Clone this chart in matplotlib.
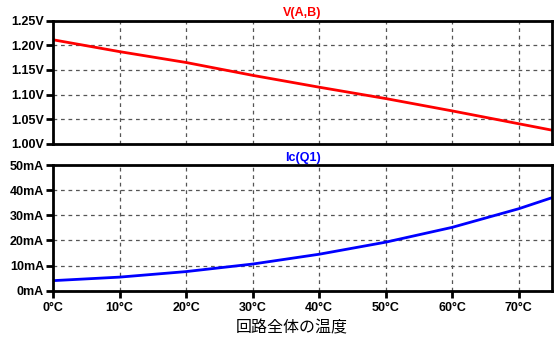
import matplotlib
matplotlib.use("Agg")
import matplotlib.pyplot as plt

# Temperature sweep (deg C) and the two traces
temps = [0, 10, 20, 30, 40, 50, 60, 70, 75]
v_ab = [1.211, 1.187, 1.165, 1.139, 1.115, 1.092, 1.067, 1.041, 1.028]
ic_q1 = [4.0, 5.4, 7.6, 10.6, 14.5, 19.3, 25.2, 32.6, 37.0]

x_ticks = [0, 10, 20, 30, 40, 50, 60, 70]
x_labels = ["0°C", "10°C", "20°C", "30°C", "40°C", "50°C", "60°C", "70°C"]
v_ticks = [1.00, 1.05, 1.10, 1.15, 1.20, 1.25]
v_labels = ["1.00V", "1.05V", "1.10V", "1.15V", "1.20V", "1.25V"]
i_ticks = [0, 10, 20, 30, 40, 50]
i_labels = ["0mA", "10mA", "20mA", "30mA", "40mA", "50mA"]

W, H = 560, 344
fig = plt.figure(figsize=(W / 100, H / 100), dpi=100)

tick_font = dict(family=["Liberation Sans", "DejaVu Sans"], weight="bold", size=9)


def panel(top, bottom):
    ax = fig.add_axes([53 / W, (H - bottom) / H, 499 / W, (bottom - top) / H])
    for s in ax.spines.values():
        s.set_linewidth(2)
        s.set_color("black")
    ax.set_xlim(0, 75)
    ax.set_xticks(x_ticks)
    ax.grid(True, color="#555555", linestyle=(0, (3, 3)), linewidth=0.9)
    ax.tick_params(direction="out", length=5, width=2, pad=1.5)
    return ax


ax1 = panel(20.5, 144)
ax1.plot(temps, v_ab, color="#ff0000", linewidth=2)
ax1.set_ylim(1.00, 1.25)
ax1.set_yticks(v_ticks)
ax1.set_yticklabels(v_labels, **tick_font)
ax1.tick_params(axis="x", length=0, labelbottom=False)
ax1.set_title("V(A,B)", color="#ff0000", pad=3, **tick_font)

ax2 = panel(165, 290.7)
ax2.plot(temps, ic_q1, color="#0000ff", linewidth=2)
ax2.set_ylim(0, 50)
ax2.set_yticks(i_ticks)
ax2.set_yticklabels(i_labels, **tick_font)
ax2.set_xticklabels(x_labels, **tick_font)
ax2.tick_params(axis="x", pad=3)
ax2.set_title("Ic(Q1)", color="#0000ff", pad=3, **tick_font)
ax2.set_xlabel("回路全体の温度", family=["Noto Sans CJK JP", "DejaVu Sans"],
               fontsize=11.5)
ax2.xaxis.set_label_coords(0.479, -0.23)

fig.savefig("out.png", dpi=100)
